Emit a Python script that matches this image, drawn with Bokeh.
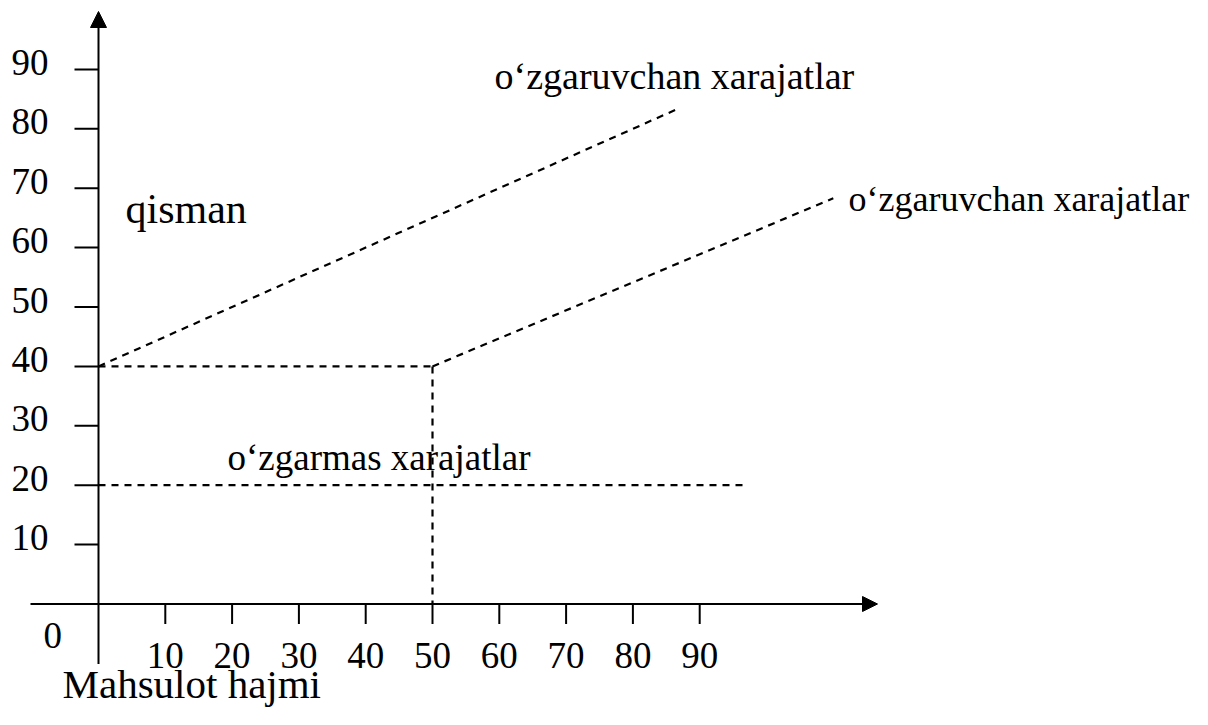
from bokeh.plotting import figure
from bokeh.models import Arrow, NormalHead, Range1d
from bokeh.core.properties import value
from bokeh.embed import file_html
from bokeh.resources import INLINE

# ---- data ----
x_ticks = [10, 20, 30, 40, 50, 60, 70, 80, 90]
x_tick_labels = ["10", "20", "30", "40", "50", "60", "70", "80", "90"]
y_ticks = [10, 20, 30, 40, 50, 60, 70, 80, 90]
y_tick_labels = ["10", "20", "30", "40", "50", "60", "70", "80", "90"]

fixed_x = [0, 97]          # o'zgarmas xarajatlar
fixed_y = [20, 20]
semi_level_x = [0, 50]     # qisman: fixed part
semi_level_y = [40, 40]
semi_drop_x = [50, 50]
semi_drop_y = [40, 0]
var1_x = [0, 87]           # o'zgaruvchan xarajatlar (upper)
var1_y = [40, 83.5]
var2_x = [50, 110]         # o'zgaruvchan xarajatlar (lower)
var2_y = [40, 68.3]

label_var1 = "o\u2018zgaruvchan xarajatlar"
label_var2 = "o\u2018zgaruvchan xarajatlar"
label_fixed = "o\u2018zgarmas xarajatlar"
label_semi = "qisman"
label_x = "Mahsulot hajmi"
label_zero = "0"

# ---- layout constants ----
W, H = 1192, 709
SX, SY = 6.68, 5.94          # px per data unit
OX, OY = 98.0, 603.5         # canvas px of data origin
FONT = value("Liberation Serif")
BASE_FIX = 0.35              # svg text sits ~0.35em low with alphabetic baseline

p = figure(width=W, height=H, output_backend="svg", toolbar_location=None,
           x_axis_location=None, y_axis_location=None, min_border=0,
           x_range=Range1d(-OX / SX, (W - OX) / SX),
           y_range=Range1d((OY - H) / SY, OY / SY))
p.grid.visible = False
p.outline_line_color = None
p.background_fill_color = "white"
p.border_fill_color = "white"

# axes with arrowheads
p.add_layout(Arrow(end=NormalHead(size=16, fill_color="black", line_color="black", line_width=1),
                   x_start=0, y_start=-60 / SY, x_end=0, y_end=592.5 / SY,
                   line_color="black", line_width=2))
p.add_layout(Arrow(end=NormalHead(size=15, fill_color="black", line_color="black", line_width=1),
                   x_start=-68 / SX, y_start=0, x_end=779 / SX, y_end=0,
                   line_color="black", line_width=2))

# ticks
p.segment(x0=x_ticks, y0=[0] * len(x_ticks), x1=x_ticks, y1=[-20 / SY] * len(x_ticks),
          line_color="black", line_width=2)
p.segment(x0=[-24 / SX] * len(y_ticks), y0=y_ticks, x1=[0] * len(y_ticks), y1=y_ticks,
          line_color="black", line_width=2)

# tick labels
p.text(x=x_ticks, y=[0] * len(x_ticks), text=x_tick_labels, y_offset=64 - BASE_FIX * 37,
       text_font=FONT, text_font_size="37px", text_align="center",
       text_baseline="alphabetic", text_color="black")
p.text(x=[0] * len(y_ticks), y=y_ticks, text=y_tick_labels, x_offset=-50,
       y_offset=6 - BASE_FIX * 37,
       text_font=FONT, text_font_size="37px", text_align="right",
       text_baseline="alphabetic", text_color="black")

# dashed cost lines
for xs, ys in [(fixed_x, fixed_y), (semi_level_x, semi_level_y), (semi_drop_x, semi_drop_y),
               (var1_x, var1_y), (var2_x, var2_y)]:
    p.line(xs, ys, line_color="black", line_width=2.2, line_dash="7 6")

# annotations (positions given in reference-pixel terms, converted to data units)
def put(txt, sx, sy, size):
    p.text(x=[(sx - 98) / SX], y=[(607.5 - sy) / SY], text=[txt], text_font=FONT,
           text_font_size=f"{size}px", text_align="left", text_baseline="alphabetic",
           y_offset=-BASE_FIX * size, text_color="black")

put(label_var1, 494, 93, 38)
put(label_var2, 848, 215, 36)
put(label_semi, 125, 227, 42)
put(label_fixed, 227, 474, 37)
put(label_x, 62, 702, 41)
put(label_zero, 43, 652, 37)

open("out.html", "w").write(file_html(p, INLINE))
